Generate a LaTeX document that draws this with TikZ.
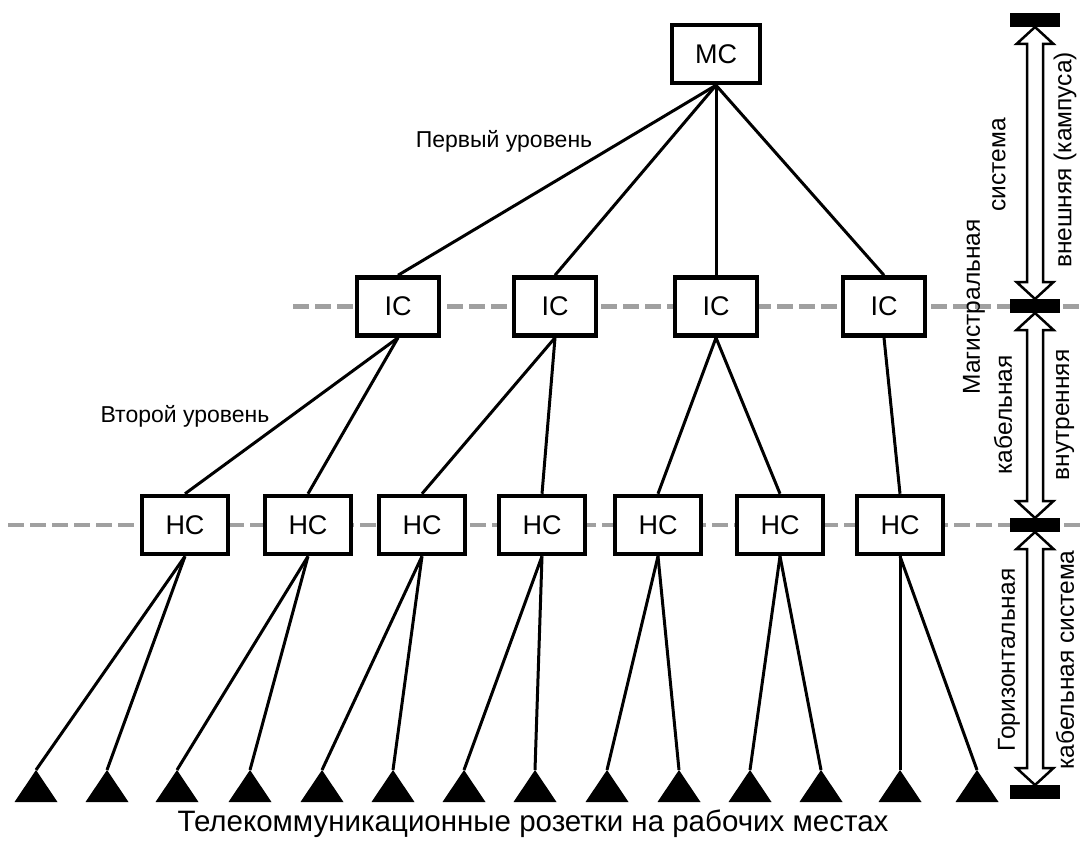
\documentclass[tikz,border=0pt]{standalone}
\usepackage{fontspec}
\setmainfont{Liberation Sans}
\definecolor{dashgray}{RGB}{160,160,160}
\tikzset{
  box/.style={draw, line width=4.5pt, fill=white, minimum height=58pt, inner sep=0pt, font=\fontsize{27}{30}\selectfont},
  mcbox/.style={box, minimum width=88pt},
  icbox/.style={box, minimum width=82pt},
  hcbox/.style={box, minimum width=86pt},
  wire/.style={line width=3pt},
  level/.style={dashgray, line width=4.5pt, dash pattern=on 16pt off 6pt},
  lbl/.style={font=\fontsize{23}{26}\selectfont, inner sep=0pt},
  side/.style={font=\fontsize{24.5}{28}\selectfont, rotate=90, inner sep=0pt},
  bar/.style={fill=black, minimum width=50pt, minimum height=14pt, inner sep=0pt},
  darrow/.style={fill=white, draw=black, line width=2.5pt, line join=miter}
}
\newcommand\myDArrow[2]{%
  \draw[darrow] (1035,#1) -- (1053.5,#1+17) -- (1043,#1+17) -- (1043,#2-17) -- (1053.5,#2-17) -- (1035,#2)
    -- (1016.5,#2-17) -- (1027,#2-17) -- (1027,#1+17) -- (1016.5,#1+17) -- cycle;}
\begin{document}
\begin{tikzpicture}[x=1pt,y=-1pt]
\useasboundingbox (0,0) rectangle (1083,840);
% level lines
\coordinate (icL) at (293,306.5); \coordinate (icR) at (1083,306.5);
\coordinate (hcL) at (8,525); \coordinate (hcR) at (1083,525);
\draw[level] (icL) -- (icR);
\draw[level] (hcL) -- (hcR);
% boxes
\node[mcbox] (mc) at (716,54) {MC};
\node[icbox] (ic1) at (398,306.5) {IC};
\node[icbox] (ic2) at (555,306.5) {IC};
\node[icbox] (ic3) at (716,306.5) {IC};
\node[icbox] (ic4) at (884,306.5) {IC};
\foreach \i/\x in {1/185,2/308,3/422,4/542,5/658,6/780,7/900}
  \node[hcbox] (hc\i) at (\x,525) {HC};
% outlets
\foreach \i/\x in {1/36,2/107,3/177,4/250,5/322,6/393,7/464,8/535,9/607,10/679,11/750,12/821,13/900,14/977}{
  \coordinate (t\i) at (\x,770);
  \fill (t\i) -- ++(-21.5,32) -- ++(43,0) -- cycle;
}
% connectors
\foreach \i in {1,...,4} \draw[wire] (mc.south) -- (ic\i.north);
\draw[wire] (ic1.south) -- (hc1.north);
\draw[wire] (ic1.south) -- (hc2.north);
\draw[wire] (ic2.south) -- (hc3.north);
\draw[wire] (ic2.south) -- (hc4.north);
\draw[wire] (ic3.south) -- (hc5.north);
\draw[wire] (ic3.south) -- (hc6.north);
\draw[wire] (ic4.south) -- (hc7.north);
\foreach \h/\a/\b in {1/1/2,2/3/4,3/5/6,4/7/8,5/9/10,6/11/12,7/13/14}{
  \draw[wire] (hc\h.south) -- (t\a);
  \draw[wire] (hc\h.south) -- (t\b);
}
% labels
\node[lbl] (l1) at (504,141) {Первый уровень};
\node[lbl] (l2) at (185,416) {Второй уровень};
\node[font=\fontsize{29.5}{33}\selectfont, inner sep=0pt] (l3) at (533,824) {Телекоммуникационные розетки на рабочих местах};
% right side scale
\myDArrow{27}{299}
\myDArrow{313}{518}
\myDArrow{532}{785}
\node[bar] (b1) at (1035,20) {};
\node[bar] (b2) at (1035,306) {};
\node[bar] (b3) at (1035,525) {};
\node[bar] (b4) at (1035,792) {};
\node[side] (s1) at (974,307) {Магистральная};
\node[side] (s2) at (999,165) {система};
\node[side] (s3) at (1003,415) {кабельная};
\node[side] (s4) at (1065,160) {внешняя (кампуса)};
\node[side] (s5) at (1065,415) {внутренняя};
\node[side] (s6) at (1009,660) {Горизонтальная};
\node[side] (s7) at (1065,660) {кабельная система};
\end{tikzpicture}
\end{document}
